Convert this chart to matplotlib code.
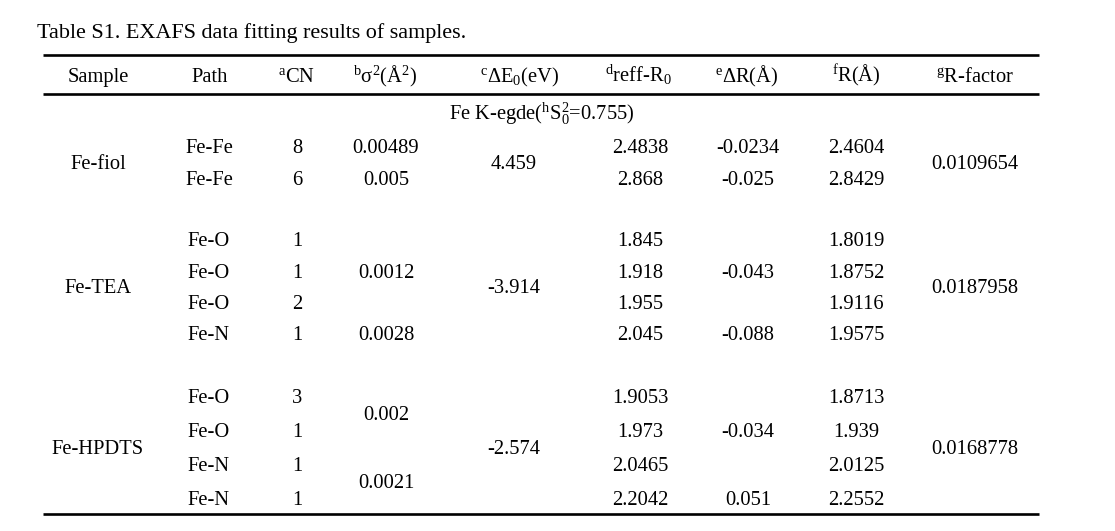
import matplotlib
matplotlib.use("Agg")
import matplotlib.pyplot as plt

plt.rcParams['font.family'] = ['Liberation Serif', 'DejaVu Serif']
plt.rcParams['mathtext.fontset'] = 'custom'
plt.rcParams['mathtext.rm'] = 'Liberation Serif'
plt.rcParams['mathtext.it'] = 'Liberation Serif:italic'
plt.rcParams['mathtext.bf'] = 'Liberation Serif:bold'

# ---------------- data ----------------
title = "Table S1. EXAFS data fitting results of samples."
headers = ["Sample", "Path", r"$^{\mathrm{a}}$CN", r"$^{\mathrm{b}}$σ$^{2}$(Å$^{2}$)",
           r"$^{\mathrm{c}}$ΔE$_{0}$(eV)", r"$^{\mathrm{d}}$reff-R$_{0}$",
           r"$^{\mathrm{e}}$ΔR(Å)", r"$^{\mathrm{f}}$R(Å)", r"$^{\mathrm{g}}$R-factor"]
section = r"Fe K-egde($^{\mathrm{h}}\mathrm{S}_{0}^{2}$=0.755)"

samples = ["Fe-fiol", "Fe-TEA", "Fe-HPDTS"]
paths = [["Fe-Fe", "Fe-Fe"],
         ["Fe-O", "Fe-O", "Fe-O", "Fe-N"],
         ["Fe-O", "Fe-O", "Fe-N", "Fe-N"]]
cn = [["8", "6"],
      ["1", "1", "2", "1"],
      ["3", "1", "1", "1"]]
# (value, first row, last row) for merged cells
sigma2 = [[("0.00489", 0, 0), ("0.005", 1, 1)],
          [("0.0012", 0, 2), ("0.0028", 3, 3)],
          [("0.002", 0, 1), ("0.0021", 2, 3)]]
dE0 = ["4.459", "-3.914", "-2.574"]
reff = [["2.4838", "2.868"],
        ["1.845", "1.918", "1.955", "2.045"],
        ["1.9053", "1.973", "2.0465", "2.2042"]]
dR = [[("-0.0234", 0, 0), ("-0.025", 1, 1)],
      [("-0.043", 0, 2), ("-0.088", 3, 3)],
      [("-0.034", 0, 2), ("0.051", 3, 3)]]
R = [["2.4604", "2.8429"],
     ["1.8019", "1.8752", "1.9116", "1.9575"],
     ["1.8713", "1.939", "2.0125", "2.2552"]]
rfactor = ["0.0109654", "0.0187958", "0.0168778"]

# ---------------- layout (pixels) ----------------
W, H = 1115, 531
header_x = [98.5, 209.5, 296, 385.5, 520, 638, 747, 856, 975]
data_x = [98, 209, 297, 386, 514, 640, 748, 856, 975]
row_base = [[153, 185], [246, 278, 309, 340], [403, 437, 471, 505]]
FS = 14.8

fig = plt.figure(figsize=(W / 100, H / 100), dpi=100)
ax = fig.add_axes([0, 0, 1, 1])
ax.set_xlim(0, W)
ax.set_ylim(H, 0)
ax.axis('off')

ax.text(37, 38, title, fontsize=15.9, ha='left', va='baseline')

x0, x1 = 43, 1039
for y in (55, 94, 514):
    ax.plot([x0, x1], [y, y], color='black', lw=1.9, solid_capstyle='butt')

for hx, h in zip(header_x, headers):
    ax.text(hx, 82, h, fontsize=FS, ha='center', va='baseline')

ax.text(542, 120, section, fontsize=FS, ha='center', va='baseline')


def put(x, y, s):
    ax.text(x, y, s, fontsize=FS, ha='center', va='baseline')


for g, name in enumerate(samples):
    rows = row_base[g]
    mid = sum(rows) / len(rows)
    put(data_x[0], mid, name)
    put(data_x[4], mid, dE0[g])
    put(data_x[8], mid, rfactor[g])
    for i, y in enumerate(rows):
        put(data_x[1], y, paths[g][i])
        put(data_x[2], y, cn[g][i])
        put(data_x[5], y, reff[g][i])
        put(data_x[7], y, R[g][i])
    for col, spans in ((3, sigma2[g]), (6, dR[g])):
        for val, a, b in spans:
            yy = sum(rows[a:b + 1]) / (b - a + 1)
            put(data_x[col], yy, val)

fig.savefig("out.png", dpi=100)
